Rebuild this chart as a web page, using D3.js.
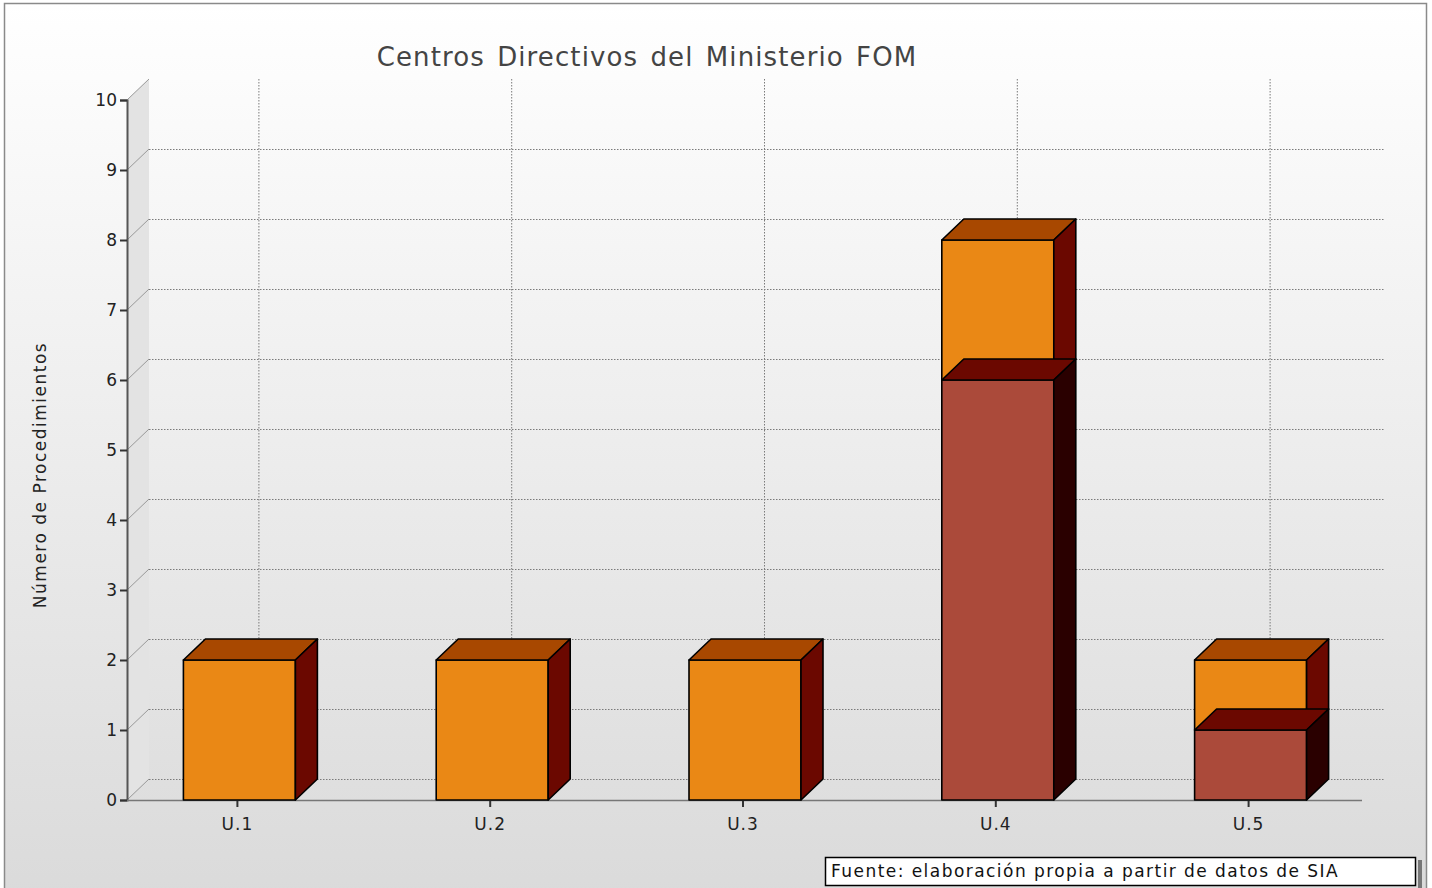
<!DOCTYPE html>
<html>
<head>
<meta charset="utf-8">
<script src="https://cdn.jsdelivr.net/npm/d3@7"></script>
<style>
  body { margin: 0; background: #fff; }
  svg { display: block; font-family: "DejaVu Sans", Verdana, sans-serif; }
</style>
</head>
<body>
<svg id="chart" width="1432" height="888"></svg>
<script>
var categorias = ["U.1", "U.2", "U.3", "U.4", "U.5"];
var serieInferior = [0, 0, 0, 6, 1];
var serieSuperior = [2, 2, 2, 2, 1];
var ticksY = [0, 1, 2, 3, 4, 5, 6, 7, 8, 9, 10];

var colores = {
  inferior: { front: "#ab4a3a", top: "#6b0800", side: "#2a0000" },
  superior: { front: "#ea8815", top: "#a84800", side: "#6b0800" }
};

var svg = d3.select("#chart");
var dx = 22, dy = 21;

// fondo degradado
var defs = svg.append("defs");
var grad = defs.append("linearGradient").attr("id", "fondo")
  .attr("x1", 0).attr("y1", 0).attr("x2", 0).attr("y2", 1);
grad.append("stop").attr("offset", "0%").attr("stop-color", "#ffffff");
grad.append("stop").attr("offset", "100%").attr("stop-color", "#dadada");

svg.append("rect").attr("x", 4.5).attr("y", 3.5).attr("width", 1422).attr("height", 900)
  .attr("fill", "url(#fondo)").attr("stroke", "#8a8a8a").attr("stroke-width", 1.5);

var y = d3.scaleLinear().domain([0, 10]).range([800, 100]);
var x = d3.scaleBand().domain(categorias).range([112, 1376]);
var anchoBarra = x.bandwidth() * 0.443;
var x0 = 127, xFin = 1362;

// pared izquierda
svg.append("path")
  .attr("d", "M" + x0 + "," + y(0) + "L" + x0 + "," + y(10) + "L" + (x0 + dx) + "," + (y(10) - dy) +
    "L" + (x0 + dx) + "," + (y(0) - dy) + "Z")
  .attr("fill", "#e3e3e3");

// rejilla horizontal
var rejilla = svg.append("g");
ticksY.forEach(function(t){
  if (t < 10) {
    rejilla.append("line")
      .attr("x1", x0 + dx).attr("x2", xFin + dx + 1)
      .attr("y1", y(t) - dy + 0.5).attr("y2", y(t) - dy + 0.5)
      .attr("stroke", "#7a7a7a").attr("stroke-dasharray", "1.5,1.5");
  }
  rejilla.append("line")
    .attr("x1", x0).attr("y1", y(t))
    .attr("x2", x0 + dx).attr("y2", y(t) - dy)
    .attr("stroke", "#999").attr("stroke-width", 1);
});

// rejilla vertical
categorias.forEach(function(c){
  var cx = x(c) + x.bandwidth() / 2 + dx - 2;
  rejilla.append("line")
    .attr("x1", cx + 0.5).attr("x2", cx + 0.5)
    .attr("y1", y(10) - dy).attr("y2", y(0) - dy)
    .attr("stroke", "#7a7a7a").attr("stroke-dasharray", "1.5,1.5");
});

// eje Y
var ejeY = svg.append("g").attr("transform", "translate(" + x0 + ",0)")
  .call(d3.axisLeft(y).tickValues(ticksY).tickSize(7).tickPadding(3));
ejeY.select(".domain").attr("stroke", "#555").attr("stroke-width", 2);
ejeY.selectAll(".tick line").attr("stroke", "#333").attr("stroke-width", 2);
ejeY.selectAll("text").attr("font-size", 17).attr("fill", "#222")
  .attr("font-family", "DejaVu Sans, Verdana, sans-serif");

// eje X
svg.append("line").attr("x1", x0).attr("x2", xFin).attr("y1", y(0) + 0.5).attr("y2", y(0) + 0.5)
  .attr("stroke", "#777").attr("stroke-width", 1.5);
var ejeX = svg.append("g").attr("transform", "translate(-1," + (y(0) + 1) + ")")
  .call(d3.axisBottom(x).tickSize(6).tickPadding(11));
ejeX.select(".domain").remove();
ejeX.selectAll(".tick line").attr("stroke", "#333").attr("stroke-width", 2);
ejeX.selectAll("text").attr("font-size", 17).attr("fill", "#222")
  .attr("font-family", "DejaVu Sans, Verdana, sans-serif").attr("letter-spacing", 1);

// barras 3D
function caja(g, bx, yb, yt, col){
  var w = anchoBarra;
  g.append("rect").attr("x", bx).attr("y", yt).attr("width", w).attr("height", yb - yt)
    .attr("fill", col.front);
  g.append("path")
    .attr("d", "M" + bx + "," + yt + "L" + (bx + dx) + "," + (yt - dy) + "L" + (bx + w + dx) + "," + (yt - dy) +
      "L" + (bx + w) + "," + yt + "Z")
    .attr("fill", col.top);
  g.append("path")
    .attr("d", "M" + (bx + w) + "," + yt + "L" + (bx + w + dx) + "," + (yt - dy) + "L" + (bx + w + dx) + "," + (yb - dy) +
      "L" + (bx + w) + "," + yb + "Z")
    .attr("fill", col.side);
  g.selectAll("*")
    .attr("stroke", "#000").attr("stroke-width", 1.6).attr("stroke-linejoin", "round");
}

var barras = svg.append("g");
categorias.forEach(function(c, i){
  var bx = x(c) + (x.bandwidth() - anchoBarra) / 2 + 1;
  var g = barras.append("g");
  var base = serieInferior[i];
  if (serieSuperior[i] > 0) caja(g.append("g"), bx, y(base), y(base + serieSuperior[i]), colores.superior);
  if (base > 0) caja(g.append("g"), bx, y(0), y(base), colores.inferior);
});

// titulo
svg.append("text").attr("x", 647).attr("y", 66).attr("text-anchor", "middle")
  .attr("font-size", 26).attr("fill", "#444").attr("letter-spacing", 1.1).attr("word-spacing", 3)
  .text("Centros Directivos del Ministerio FOM");

// etiqueta eje Y
svg.append("text").attr("transform", "translate(46," + 475 + ") rotate(-90)")
  .attr("text-anchor", "middle").attr("font-size", 17).attr("fill", "#222")
  .attr("letter-spacing", 1.5)
  .text("Número de Procedimientos");

// fuente
svg.append("rect").attr("x", 1418).attr("y", 860).attr("width", 4).attr("height", 30).attr("fill", "#777");
svg.append("rect").attr("x", 825.5).attr("y", 857.5).attr("width", 590).attr("height", 28)
  .attr("fill", "#fff").attr("stroke", "#000").attr("stroke-width", 1.5);
svg.append("text").attr("x", 831).attr("y", 877).attr("font-size", 17).attr("fill", "#111")
  .attr("letter-spacing", 1.45)
  .text("Fuente: elaboración propia a partir de datos de SIA");
</script>
</body>
</html>
